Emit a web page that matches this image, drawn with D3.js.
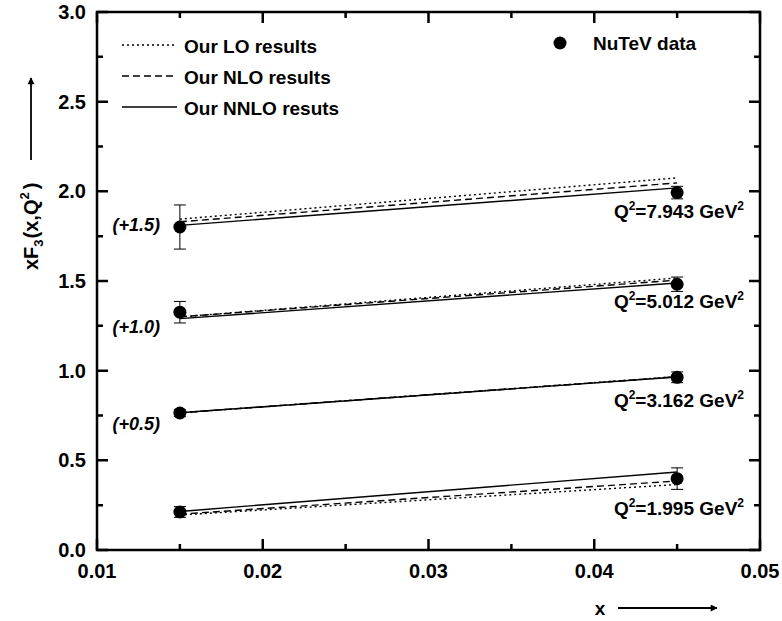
<!DOCTYPE html>
<html>
<head>
<meta charset="utf-8">
<script src="https://cdn.jsdelivr.net/npm/d3@7"></script>
<style>
  body { margin: 0; background: #fff; }
  text { font-family: Arial, "Liberation Sans", sans-serif; font-weight: bold; }
</style>
</head>
<body>
<script>
const width  = 782;
const height = 621;
const margin = {top: 12, right: 22, bottom: 71, left: 97};

// x positions of the two NuTeV bins
const xBins = [0.015, 0.045];

// one row per Q2 bin (values already include the plot shift)
const q2Labels  = ['1.995', '3.162', '5.012', '7.943'];
const shifts    = ['', '(+0.5)', '(+1.0)', '(+1.5)'];
const dataY     = [[0.212, 0.398], [0.764, 0.963], [1.326, 1.482], [1.801, 1.993]];
const dataErr   = [[0.03, 0.06], [0.02, 0.03], [0.06, 0.04], [0.123, 0.035]];
const loY       = [[0.195, 0.365], [0.765, 0.967], [1.30, 1.517], [1.845, 2.075]];
const nloY      = [[0.200, 0.385], [0.765, 0.966], [1.30, 1.505], [1.830, 2.047]];
const nnloY     = [[0.215, 0.435], [0.765, 0.965], [1.29, 1.489], [1.810, 2.019]];
const labelY    = [0, 0.76, 1.30, 1.87];        // y of the shift labels
const q2LabelY  = [0.195, 0.797, 1.349, 1.851]; // baseline of the Q2 labels

const xTicks      = [0.01, 0.02, 0.03, 0.04, 0.05];
const xMinorTicks = [0.015, 0.025, 0.035, 0.045];
const yTicks      = [0.0, 0.5, 1.0, 1.5, 2.0, 2.5, 3.0];
const yMinorTicks = [0.25, 0.75, 1.25, 1.75, 2.25, 2.75];

const svg = d3.select('body').append('svg')
  .attr('width', width)
  .attr('height', height);

const x = d3.scaleLinear().domain([0.01, 0.05]).range([margin.left, width - margin.right]);
const y = d3.scaleLinear().domain([0, 3]).range([height - margin.bottom, margin.top]);

const x0 = x.range()[0], x1 = x.range()[1];
const y0 = y.range()[0], y1 = y.range()[1];

const seg = (xa, ya, xb, yb, w) => svg.append('line')
  .attr('x1', xa).attr('y1', ya).attr('x2', xb).attr('y2', yb)
  .attr('stroke', '#000').attr('stroke-width', w || 2);

svg.append('rect')
  .attr('x', x0).attr('y', y1)
  .attr('width', x1 - x0).attr('height', y0 - y1)
  .attr('fill', 'none').attr('stroke', '#000').attr('stroke-width', 2.5);

// inward ticks on all four sides, one path
let tk = '';
[[11, xTicks], [6, xMinorTicks]].forEach(([len, vals]) => {
  vals.forEach(v => {
    const px = x(v);
    tk += `M${px},${y0}V${y0 - len}M${px},${y1}V${y1 + len}`;
  });
});
[[11, yTicks], [6, yMinorTicks]].forEach(([len, vals]) => {
  vals.forEach(v => {
    const py = y(v);
    tk += `M${x0},${py}H${x0 + len}M${x1},${py}H${x1 - len}`;
  });
});
svg.append('path').attr('d', tk)
  .attr('fill', 'none').attr('stroke', '#000').attr('stroke-width', 2.5);

svg.selectAll('.xt').data(xTicks).enter().append('text')
  .attr('x', d => x(d)).attr('y', y0 + 28)
  .attr('text-anchor', 'middle').attr('font-size', 20)
  .text(d => d.toFixed(2));

svg.selectAll('.yt').data(yTicks).enter().append('text')
  .attr('x', x0 - 11).attr('y', d => y(d) + 7)
  .attr('text-anchor', 'end').attr('font-size', 20)
  .text(d => d.toFixed(1));

// axis titles with arrows
const arrow = svg.append('defs').append('marker')
  .attr('id', 'arr').attr('viewBox', '0 0 10 10').attr('refX', 9).attr('refY', 5)
  .attr('markerWidth', 11).attr('markerHeight', 7).attr('orient', 'auto')
  .attr('markerUnits', 'userSpaceOnUse');
arrow.append('path').attr('d', 'M0,0L10,5L0,10z').attr('fill', '#000');

svg.append('text').attr('x', 600).attr('y', 615)
  .attr('text-anchor', 'middle').attr('font-size', 19).text('x');
seg(618, 608, 717, 608, 1.8).attr('marker-end', 'url(#arr)');

const yt = svg.append('text')
  .attr('transform', 'translate(38,270) rotate(-90)')
  .attr('font-size', 20);
yt.append('tspan').text('xF');
yt.append('tspan').attr('font-size', 13).attr('dy', 5).text('3');
yt.append('tspan').attr('dy', -5).attr('dx', 1).text('(x,Q');
yt.append('tspan').attr('font-size', 13).attr('dy', -9).text('2');
yt.append('tspan').attr('dy', 9).attr('dx', 3).text(')');
seg(31, 160, 31, 78, 1.8).attr('marker-end', 'url(#arr)');

// theory curves
const line = d3.line().x((d, i) => x(xBins[i])).y(d => y(d));
const styles = [
  {data: loY,   dash: '2,3'},
  {data: nloY,  dash: '7,4'},
  {data: nnloY, dash: null}
];
styles.forEach(s => {
  s.data.forEach(row => {
    svg.append('path').attr('d', line(row))
      .attr('fill', 'none').attr('stroke', '#000').attr('stroke-width', 1.4)
      .attr('stroke-dasharray', s.dash);
  });
});

// data points with error bars
dataY.forEach((row, k) => {
  row.forEach((v, i) => {
    const cx = x(xBins[i]);
    const e = dataErr[k][i];
    seg(cx, y(v - e), cx, y(v + e), 1);
    [v - e, v + e].forEach(w => seg(cx - 6, y(w), cx + 6, y(w), 1));
    svg.append('circle').attr('cx', cx).attr('cy', y(v)).attr('r', 6.5).attr('fill', '#000');
  });
});

// labels
shifts.forEach((s, k) => {
  if (!s) return;
  svg.append('text').attr('x', 160).attr('y', y(labelY[k]) + 16)
    .attr('text-anchor', 'end').attr('font-size', 18).attr('font-style', 'italic').text(s);
});
q2Labels.forEach((q, k) => {
  const t = svg.append('text').attr('x', 744).attr('y', y(q2LabelY[k]))
    .attr('text-anchor', 'end').attr('font-size', 19);
  t.append('tspan').text('Q');
  t.append('tspan').attr('font-size', 12).attr('dy', -8).text('2');
  t.append('tspan').attr('dy', 8).text('=' + q + ' GeV');
  t.append('tspan').attr('font-size', 12).attr('dy', -8).text('2');
});

// legend
const legendNames = ['Our LO results', 'Our NLO results', 'Our NNLO resuts'];
legendNames.forEach((n, i) => {
  const ly = 45 + i * 31;
  seg(122, ly, 177, ly, 1.3).attr('stroke-dasharray', styles[i].dash);
  svg.append('text').attr('x', 184).attr('y', ly + 8).attr('font-size', 19).text(n);
});
svg.append('circle').attr('cx', 560).attr('cy', 43).attr('r', 6.5).attr('fill', '#000');
svg.append('text').attr('x', 593).attr('y', 50).attr('font-size', 19).text('NuTeV data');
</script>
</body>
</html>
